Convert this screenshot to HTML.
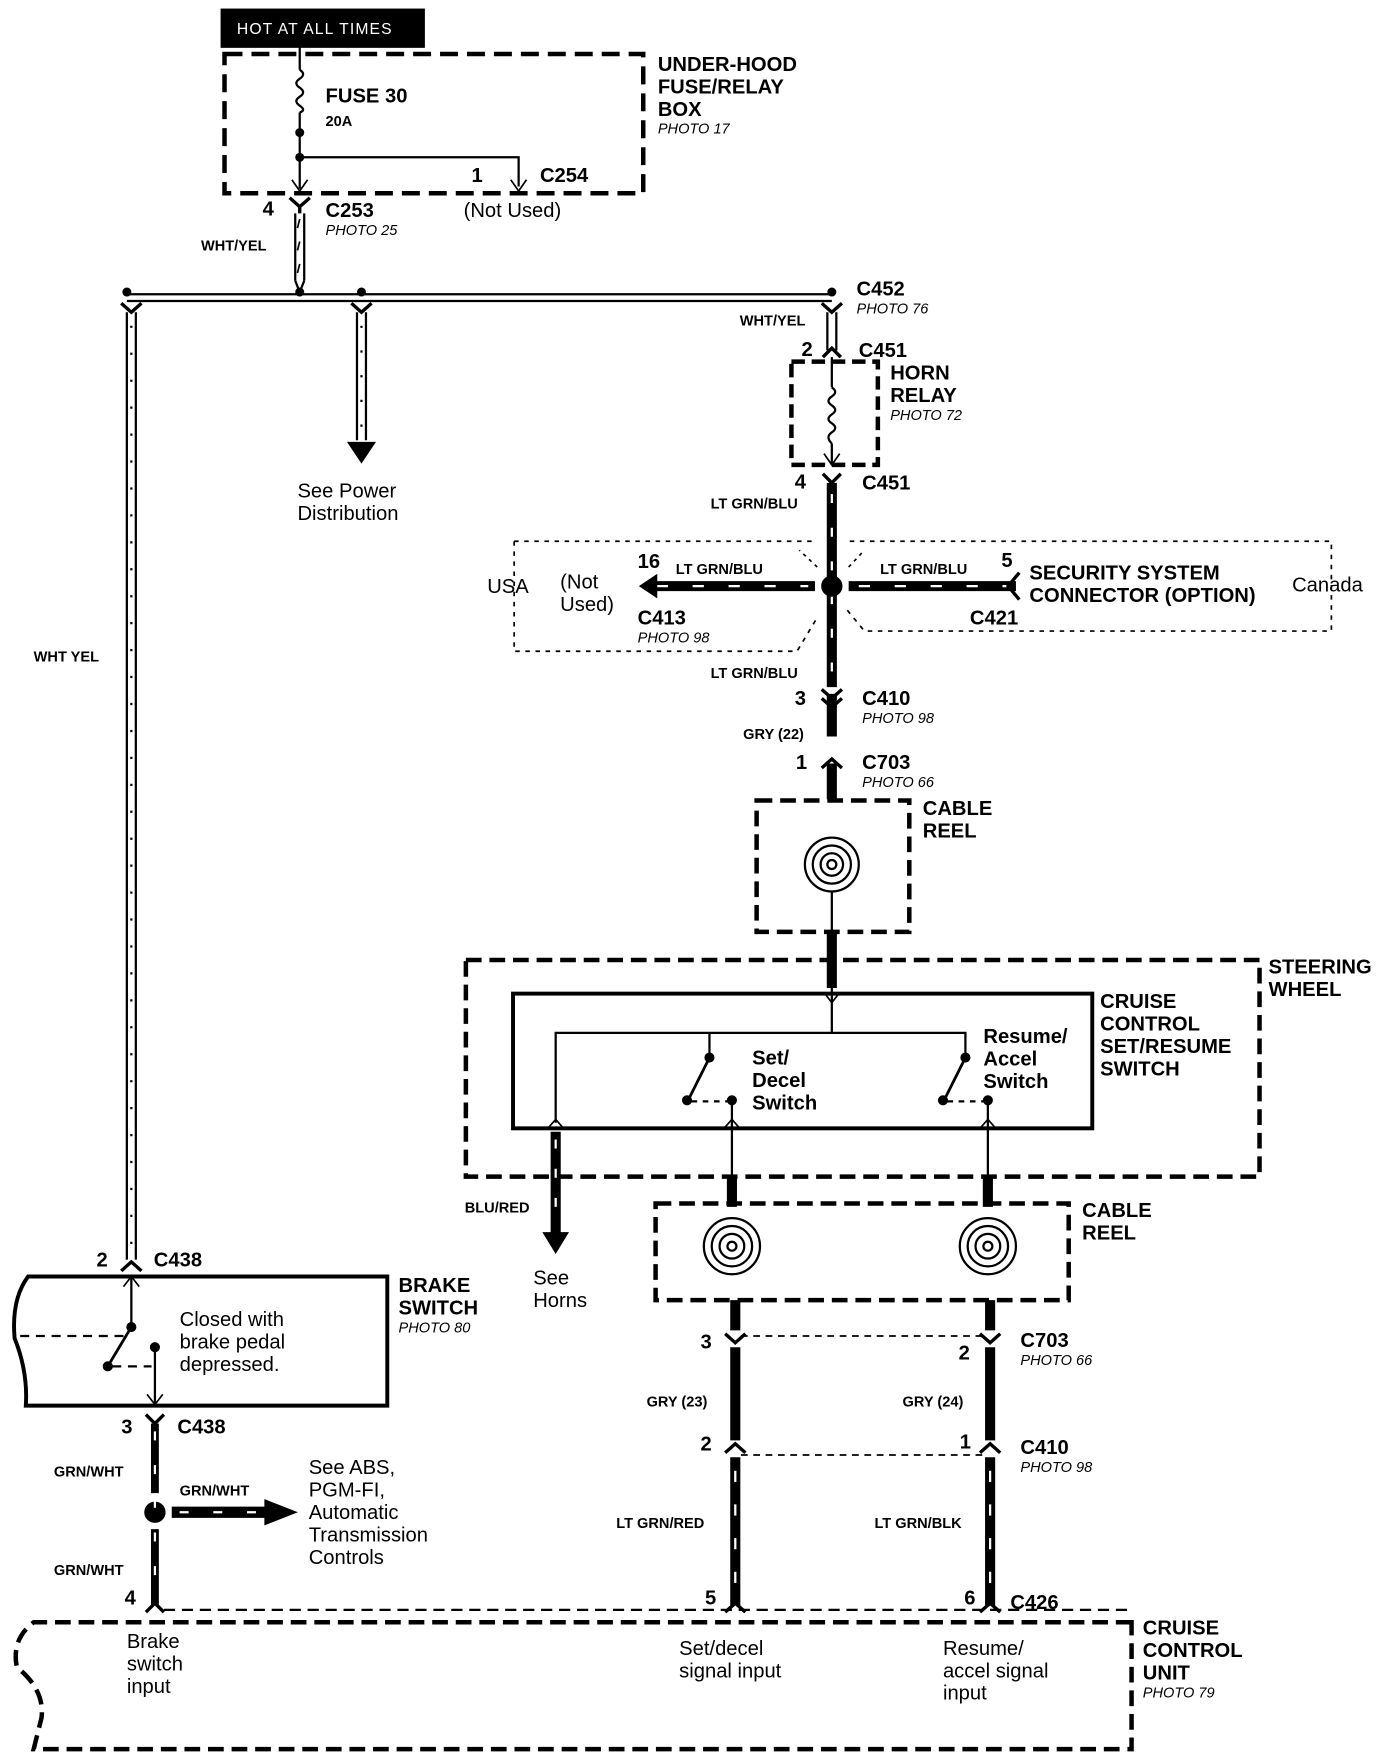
<!DOCTYPE html>
<html><head><meta charset="utf-8"><style>
html,body{margin:0;padding:0;background:#fff}
svg{display:block}
text{font-family:"Liberation Sans",Arial,sans-serif;fill:#000}
.b{font-weight:bold;font-size:18px}
.s{font-weight:bold;font-size:13px}
.n{font-size:18px}
.i{font-style:italic;font-size:13px}
</style></head><body>
<svg width="1392" height="1756" viewBox="0 0 1240 1564" xmlns="http://www.w3.org/2000/svg">
<g fill="none" stroke="#000">
<rect x="197" y="8" width="181" height="34" fill="#000"/>
<rect x="200" y="48" width="373" height="124" stroke-width="4" stroke-dasharray="16,8"/>
<path d="M267 42 V62 M267 100 V168" stroke-width="2"/>
<path d="M267 62 q6 4 0 8 q-6 4 0 8 q6 4 0 8 q-6 4 0 8 q6 4 0 6" stroke-width="2"/>
<path d="M267 140 H462 V166" stroke-width="2"/>
<path d="M455 160 L462 170 L469 160 M260 160 L267 170 L274 160" stroke-width="1.5"/>
<path d="M258 176 L267 184 L276 176 M267 184 V190" stroke-width="3"/>
<path d="M263 190 V250 M271 190 V250" stroke-width="2"/>
<path d="M267 195 l-2 8 M267 215 l-2 8 M267 235 l-2 8" stroke-width="1.5"/>
<path d="M263 250 l4 10 l4 -10" stroke-width="2"/>
<path d="M113 262 H741 M113 268 H741" stroke-width="2"/>
<path d="M108 270 L117 278 L126 270 M313 270 L322 278 L331 270 M732 270 L741 278 L750 270" stroke-width="3"/>
<path d="M113 278 V1122 M121 278 V1122" stroke-width="2"/>
<path d="M117 290 V1110" stroke-width="2" stroke-dasharray="2,22"/>
<path d="M318 278 V392 M326 278 V392" stroke-width="2"/>
<path d="M322 290 V385" stroke-width="2" stroke-dasharray="2,20"/>
<path d="M310 394 H334 L322 412 Z" fill="#000"/>
<path d="M737 278 V312 M745 278 V312" stroke-width="2"/>
<path d="M733 318 L741 310 L749 318" stroke-width="3"/>
<rect x="705" y="322" width="77" height="92" stroke-width="4" stroke-dasharray="12,6"/>
<path d="M741 318 V345 M741 395 V414" stroke-width="2"/>
<path d="M741 345 q6 4 0 8 q-6 4 0 8 q6 4 0 8 q-6 4 0 8 q6 4 0 8 q-6 4 0 10" stroke-width="2"/>
<path d="M734 404 L741 414 L748 404" stroke-width="1.5"/>
<path d="M733 422 L741 430 L749 422" stroke-width="3"/>
<path d="M741 430 V612" stroke-width="9"/>
<path d="M741 618 V656" stroke-width="9"/>
<path d="M741 680 V712" stroke-width="9"/>
<path d="M741 440 V600" stroke="#fff" stroke-width="2" stroke-dasharray="8,22"/>
<path d="M732 614 L741 622 L750 614 M732 622 L741 630 L750 622" stroke-width="3"/>
<path d="M732 684 L741 676 L750 684" stroke-width="3"/>
<circle cx="741" cy="522" r="9" fill="#000"/>
<path d="M580 522 H726 M756 522 H905" stroke-width="9"/>
<path d="M585 522 H720 M765 522 H900" stroke="#fff" stroke-width="2" stroke-dasharray="10,22"/>
<path d="M585 512 L570 522 L585 532 Z" fill="#000"/>
<path d="M908 510 L898 522 L908 534" stroke-width="3"/>
<path d="M458 482 H725 M458 482 V580 H710 L728 550 M757 482 H1186 V562 H770 L752 540" stroke-width="1.5" stroke-dasharray="4,5"/>
<path d="M728 505 L712 490 M756 505 L770 490" stroke-width="1.5" stroke-dasharray="3,4"/>
<rect x="674" y="713" width="136" height="117" stroke-width="4" stroke-dasharray="14,7"/>
<circle cx="741" cy="770" r="24" stroke-width="2"/>
<circle cx="741" cy="770" r="17" stroke-width="2"/>
<circle cx="741" cy="770" r="10" stroke-width="2"/>
<circle cx="741" cy="770" r="4" stroke-width="2"/>
<path d="M741 794 V830" stroke-width="2"/>
<path d="M741 830 V880" stroke-width="9"/>
<path d="M741 880 V893" stroke-width="2"/>
<path d="M734 884 L741 893 L748 884" stroke-width="1.5"/>
<rect x="415" y="855" width="707" height="193" stroke-width="4" stroke-dasharray="14,7"/>
<rect x="457" y="885" width="516" height="120" stroke-width="3.5"/>
<path d="M741 893 V920 M495 1000 V920 H860 V940 M632 920 V940" stroke-width="2"/>
<circle cx="632" cy="942" r="4" fill="#000"/><circle cx="860" cy="942" r="4" fill="#000"/>
<path d="M632 942 L614 978 M860 942 L842 978" stroke-width="2.5"/>
<circle cx="612" cy="980" r="4" fill="#000"/><circle cx="652" cy="980" r="4" fill="#000"/>
<circle cx="840" cy="980" r="4" fill="#000"/><circle cx="880" cy="980" r="4" fill="#000"/>
<path d="M616 981 H648 M844 981 H876" stroke-width="2" stroke-dasharray="5,5"/>
<path d="M652 984 V1050 M880 984 V1050" stroke-width="2"/>
<path d="M645 1005 L652 997 L659 1005 M873 1005 L880 997 L887 1005 M488 1005 L495 997 L502 1005" stroke-width="1.5"/>
<path d="M495 1008 V1098" stroke-width="9"/>
<path d="M495 1015 V1090" stroke="#fff" stroke-width="2" stroke-dasharray="8,18"/>
<path d="M484 1098 H506 L495 1116 Z" fill="#000"/>
<path d="M652 1048 V1075 M880 1048 V1075" stroke-width="9"/>
<rect x="584" y="1072" width="368" height="86" stroke-width="4" stroke-dasharray="14,7"/>
<g stroke-width="2">
<circle cx="652" cy="1110" r="25"/><circle cx="652" cy="1110" r="18"/><circle cx="652" cy="1110" r="11"/><circle cx="652" cy="1110" r="4"/>
<circle cx="880" cy="1110" r="25"/><circle cx="880" cy="1110" r="18"/><circle cx="880" cy="1110" r="11"/><circle cx="880" cy="1110" r="4"/>
</g>
<path d="M655 1158 V1185 M882 1158 V1185 M655 1200 V1283 M882 1200 V1283 M655 1298 V1430 M882 1298 V1430" stroke-width="9"/>
<path d="M655 1310 V1420 M882 1310 V1420" stroke="#fff" stroke-width="2" stroke-dasharray="10,20"/>
<path d="M646 1188 L655 1196 L664 1188 M873 1188 L882 1196 L891 1188 M646 1294 L655 1286 L664 1294 M873 1294 L882 1286 L891 1294" stroke-width="3"/>
<path d="M660 1190 H878 M660 1296 H878" stroke-width="1.5" stroke-dasharray="6,5"/>
<path d="M646 1436 L655 1428 L664 1436 M873 1436 L882 1428 L891 1436 M130 1436 L138 1428 L146 1436" stroke-width="3"/>
<path d="M146 1434 H1008" stroke-width="2" stroke-dasharray="10,6"/>
<path d="M1008 1445 H30 q-20 15 -15 40 q25 20 22 45 L30 1558 H1008 Z" stroke-width="4" stroke-dasharray="14,7"/>
<path d="M108 1132 L117 1124 L126 1132" stroke-width="3"/>
<path d="M345 1137 H25 q-15 20 -12 55 q12 30 10 60 H345 Z" stroke-width="3.5"/>
<path d="M117 1137 V1180 M138 1200 V1250" stroke-width="2"/>
<path d="M110 1146 L117 1137 L124 1146 M131 1242 L138 1251 L145 1242" stroke-width="1.5"/>
<circle cx="117" cy="1182" r="4" fill="#000"/><circle cx="96" cy="1217" r="4" fill="#000"/><circle cx="138" cy="1200" r="4" fill="#000"/>
<path d="M117 1182 L96 1217" stroke-width="2.5"/>
<path d="M18 1190 H110 M100 1217 H135" stroke-width="2" stroke-dasharray="8,6"/>
<path d="M130 1260 L138 1268 L146 1260" stroke-width="3"/>
<path d="M138 1268 V1330 M138 1362 V1430" stroke-width="7"/>
<circle cx="138" cy="1347" r="9" fill="#000"/>
<path d="M153 1347 H240" stroke-width="10"/>
<path d="M236 1336 L264 1347 L236 1358 Z" fill="#000"/>
<path d="M138 1275 V1425 M160 1347 H235" stroke="#fff" stroke-width="2" stroke-dasharray="8,22"/>
<g fill="#000" stroke="none">
<circle cx="113" cy="260" r="4"/><circle cx="267" cy="260" r="4"/><circle cx="322" cy="260" r="4"/><circle cx="741" cy="260" r="4"/>
<circle cx="267" cy="118" r="4"/><circle cx="267" cy="140" r="4"/>
</g>
</g>
<text x="211" y="30" style="font-size:14px;fill:#fff;letter-spacing:1px">HOT AT ALL TIMES</text>
<text x="290" y="91" class="b">FUSE 30</text><text x="290" y="112" class="s">20A</text>
<text x="586" y="63" class="b">UNDER-HOOD</text><text x="586" y="83" class="b">FUSE/RELAY</text><text x="586" y="103" class="b">BOX</text><text x="586" y="119" class="i">PHOTO 17</text>
<text x="420" y="162" class="b">1</text><text x="481" y="162" class="b">C254</text>
<text x="234" y="192" class="b">4</text><text x="290" y="193" class="b">C253</text><text x="290" y="209" class="i">PHOTO 25</text><text x="413" y="193" class="n">(Not Used)</text>
<text x="179" y="223" class="s">WHT/YEL</text>
<text x="763" y="263" class="b">C452</text><text x="763" y="279" class="i">PHOTO 76</text><text x="659" y="290" class="s">WHT/YEL</text>
<text x="714" y="317" class="b">2</text><text x="765" y="318" class="b">C451</text>
<text x="793" y="338" class="b">HORN</text><text x="793" y="358" class="b">RELAY</text><text x="793" y="374" class="i">PHOTO 72</text>
<text x="708" y="435" class="b">4</text><text x="768" y="436" class="b">C451</text><text x="633" y="453" class="s">LT GRN/BLU</text>
<text x="265" y="443" class="n">See Power</text><text x="265" y="463" class="n">Distribution</text>
<text x="568" y="506" class="b">16</text><text x="602" y="511" class="s">LT GRN/BLU</text><text x="784" y="511" class="s">LT GRN/BLU</text><text x="892" y="505" class="b">5</text>
<text x="917" y="516" class="b">SECURITY SYSTEM</text><text x="917" y="536" class="b">CONNECTOR (OPTION)</text><text x="1151" y="527" class="n">Canada</text>
<text x="434" y="528" class="n">USA</text><text x="499" y="524" class="n">(Not</text><text x="499" y="544" class="n">Used)</text>
<text x="568" y="556" class="b">C413</text><text x="568" y="572" class="i">PHOTO 98</text><text x="864" y="556" class="b">C421</text>
<text x="30" y="589" class="s">WHT YEL</text>
<text x="633" y="604" class="s">LT GRN/BLU</text>
<text x="708" y="628" class="b">3</text><text x="768" y="628" class="b">C410</text><text x="768" y="644" class="i">PHOTO 98</text>
<text x="662" y="658" class="s">GRY (22)</text>
<text x="709" y="685" class="b">1</text><text x="768" y="685" class="b">C703</text><text x="768" y="701" class="i">PHOTO 66</text>
<text x="822" y="726" class="b">CABLE</text><text x="822" y="746" class="b">REEL</text>
<text x="1130" y="867" class="b">STEERING</text><text x="1130" y="887" class="b">WHEEL</text>
<text x="980" y="898" class="b">CRUISE</text><text x="980" y="918" class="b">CONTROL</text><text x="980" y="938" class="b">SET/RESUME</text><text x="980" y="958" class="b">SWITCH</text>
<text x="670" y="948" class="b">Set/</text><text x="670" y="968" class="b">Decel</text><text x="670" y="988" class="b">Switch</text>
<text x="876" y="929" class="b">Resume/</text><text x="876" y="949" class="b">Accel</text><text x="876" y="969" class="b">Switch</text>
<text x="414" y="1080" class="s">BLU/RED</text>
<text x="475" y="1144" class="n">See</text><text x="475" y="1164" class="n">Horns</text>
<text x="964" y="1084" class="b">CABLE</text><text x="964" y="1104" class="b">REEL</text>
<text x="86" y="1128" class="b">2</text><text x="137" y="1128" class="b">C438</text>
<text x="355" y="1151" class="b">BRAKE</text><text x="355" y="1171" class="b">SWITCH</text><text x="355" y="1187" class="i">PHOTO 80</text>
<text x="160" y="1181" class="n">Closed with</text><text x="160" y="1201" class="n">brake pedal</text><text x="160" y="1221" class="n">depressed.</text>
<text x="624" y="1201" class="b">3</text><text x="854" y="1211" class="b">2</text><text x="909" y="1200" class="b">C703</text><text x="909" y="1216" class="i">PHOTO 66</text>
<text x="576" y="1253" class="s">GRY (23)</text><text x="804" y="1253" class="s">GRY (24)</text>
<text x="108" y="1277" class="b">3</text><text x="158" y="1277" class="b">C438</text>
<text x="624" y="1292" class="b">2</text><text x="855" y="1290" class="b">1</text><text x="909" y="1295" class="b">C410</text><text x="909" y="1311" class="i">PHOTO 98</text>
<text x="48" y="1315" class="s">GRN/WHT</text><text x="160" y="1332" class="s">GRN/WHT</text><text x="48" y="1403" class="s">GRN/WHT</text>
<text x="275" y="1313" class="n">See ABS,</text><text x="275" y="1333" class="n">PGM-FI,</text><text x="275" y="1353" class="n">Automatic</text><text x="275" y="1373" class="n">Transmission</text><text x="275" y="1393" class="n">Controls</text>
<text x="549" y="1361" class="s">LT GRN/RED</text><text x="779" y="1361" class="s">LT GRN/BLK</text>
<text x="111" y="1429" class="b">4</text><text x="628" y="1429" class="b">5</text><text x="859" y="1429" class="b">6</text><text x="900" y="1433" class="b">C426</text>
<text x="1018" y="1456" class="b">CRUISE</text><text x="1018" y="1476" class="b">CONTROL</text><text x="1018" y="1496" class="b">UNIT</text><text x="1018" y="1512" class="i">PHOTO 79</text>
<text x="113" y="1468" class="n">Brake</text><text x="113" y="1488" class="n">switch</text><text x="113" y="1508" class="n">input</text>
<text x="605" y="1474" class="n">Set/decel</text><text x="605" y="1494" class="n">signal input</text>
<text x="840" y="1474" class="n">Resume/</text><text x="840" y="1494" class="n">accel signal</text><text x="840" y="1514" class="n">input</text>
</svg>
</body></html>
